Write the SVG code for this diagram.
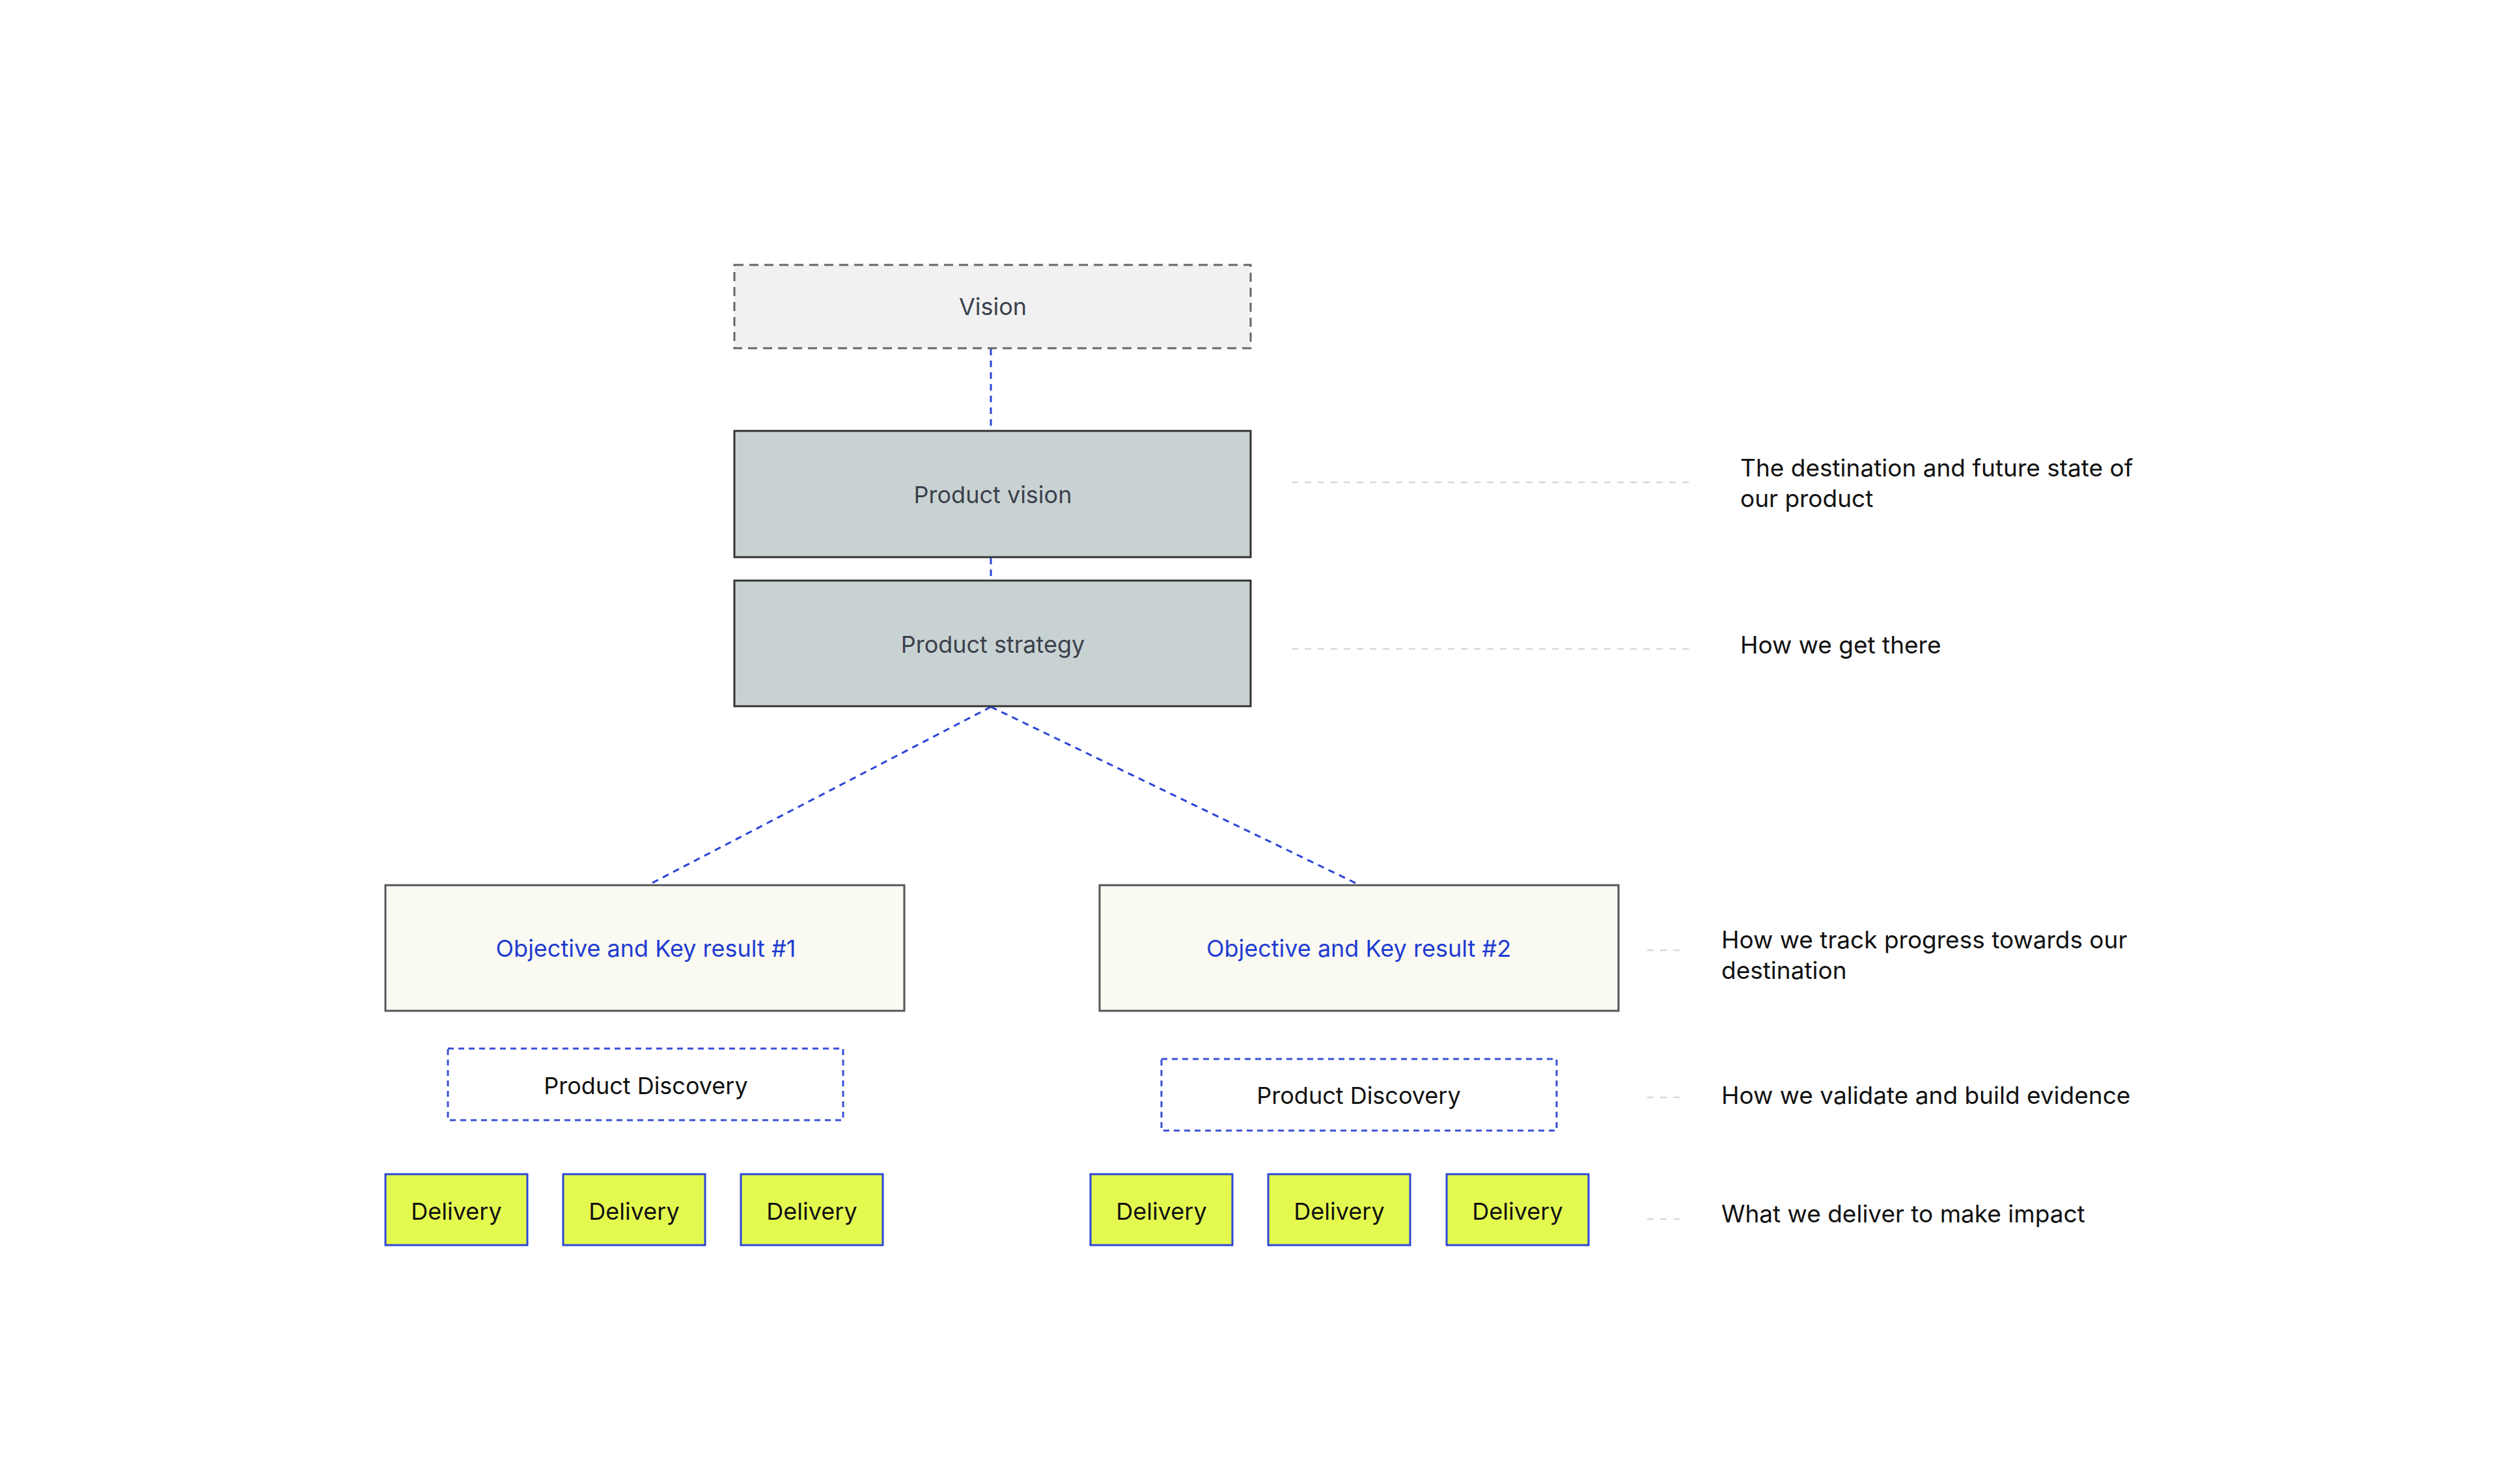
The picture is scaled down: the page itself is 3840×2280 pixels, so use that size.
<svg xmlns="http://www.w3.org/2000/svg" width="3840" height="2280" viewBox="0 0 3840 2280">
<style>
text{font-family:Inter,"Noto Sans","Liberation Sans",sans-serif}
.lbl{font-size:36px;text-anchor:middle;dominant-baseline:central}
.ann{font-size:37px;fill:#111}
.gray{fill:#c9d2d3;stroke:#333;stroke-width:3}
.okr{fill:#fafaf2;stroke:#555;stroke-width:3}
.pd{fill:#fff;stroke:#3a4fd8;stroke-width:3;stroke-dasharray:9 7}
.del{fill:#e4f94f;stroke:#2d46d6;stroke-width:3}
.conn{stroke:#2b44d8;stroke-width:3;stroke-dasharray:10 8;fill:none}
.guide{stroke:#d8d8d8;stroke-width:2.5;stroke-dasharray:10 10}
</style>
<rect width="3840" height="2280" fill="#fff"/>
<g id="connectors">
<line class="conn" x1="1522" y1="536" x2="1522" y2="661"/>
<line class="conn" x1="1522" y1="857" x2="1522" y2="891"/>
<line class="conn" x1="1522" y1="1086" x2="997" y2="1359"/>
<line class="conn" x1="1522" y1="1086" x2="2087" y2="1359"/>
<line class="guide" x1="1984" y1="741" x2="2594" y2="741"/>
<line class="guide" x1="1984" y1="997" x2="2594" y2="997"/>
<line class="guide" x1="2530" y1="1460" x2="2585" y2="1460"/>
<line class="guide" x1="2530" y1="1686" x2="2585" y2="1686"/>
<line class="guide" x1="2530" y1="1873" x2="2585" y2="1873"/>
</g>
<g id="vision"><rect x="1128" y="407" width="793" height="128" fill="#f1f1f1" stroke="#666" stroke-width="3" stroke-dasharray="14 9"/><text class="lbl" x="1525" y="471" fill="#3b404b">Vision</text></g>
<g id="product-vision"><rect class="gray" x="1128" y="662" width="793" height="194"/><text class="lbl" x="1525" y="760" fill="#3b404b">Product vision</text></g>
<g id="product-strategy"><rect class="gray" x="1128" y="892" width="793" height="193"/><text class="lbl" x="1525" y="990" fill="#3b404b">Product strategy</text></g>
<g id="okr1"><rect class="okr" x="592" y="1360" width="797" height="193"/><text class="lbl" x="992" y="1457" fill="#1f3bd1">Objective and Key result #1</text></g>
<g id="okr2"><rect class="okr" x="1689" y="1360" width="797" height="193"/><text class="lbl" x="2087" y="1457" fill="#1f3bd1">Objective and Key result #2</text></g>
<g id="pd1"><rect class="pd" x="688" y="1611" width="607" height="110"/><text class="lbl" x="992" y="1668" fill="#111">Product Discovery</text></g>
<g id="pd2"><rect class="pd" x="1784" y="1627" width="607" height="110"/><text class="lbl" x="2087" y="1683" fill="#111">Product Discovery</text></g>
<g id="d1"><rect class="del" x="592" y="1804" width="218" height="109"/><text class="lbl" x="701" y="1861" fill="#111">Delivery</text></g>
<g id="d2"><rect class="del" x="865" y="1804" width="218" height="109"/><text class="lbl" x="974" y="1861" fill="#111">Delivery</text></g>
<g id="d3"><rect class="del" x="1138" y="1804" width="218" height="109"/><text class="lbl" x="1247" y="1861" fill="#111">Delivery</text></g>
<g id="d4"><rect class="del" x="1675" y="1804" width="218" height="109"/><text class="lbl" x="1784" y="1861" fill="#111">Delivery</text></g>
<g id="d5"><rect class="del" x="1948" y="1804" width="218" height="109"/><text class="lbl" x="2057" y="1861" fill="#111">Delivery</text></g>
<g id="d6"><rect class="del" x="2222" y="1804" width="218" height="109"/><text class="lbl" x="2331" y="1861" fill="#111">Delivery</text></g>
<g id="annotations">
<text class="ann" x="2673" y="732">The destination and future state of</text>
<text class="ann" x="2673" y="779">our product</text>
<text class="ann" x="2673" y="1004">How we get there</text>
<text class="ann" x="2644" y="1457">How we track progress towards our</text>
<text class="ann" x="2644" y="1504">destination</text>
<text class="ann" x="2644" y="1696">How we validate and build evidence</text>
<text class="ann" x="2644" y="1878">What we deliver to make impact</text>
</g>
</svg>
